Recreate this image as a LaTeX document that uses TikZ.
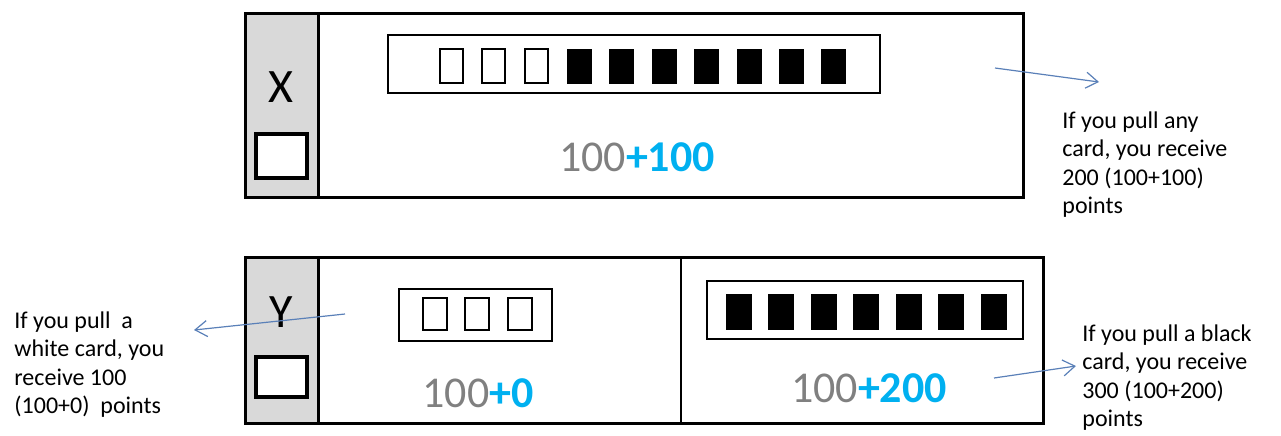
\documentclass[tikz,border=0pt]{standalone}
\usepackage{fontspec}
\setmainfont{Carlito}
\usetikzlibrary{arrows.meta}
\definecolor{colgray}{HTML}{D9D9D9}
\definecolor{numgray}{HTML}{808080}
\definecolor{numblue}{HTML}{00B0F0}
\definecolor{arrowblue}{HTML}{5A80B8}
\tikzset{
  frame/.style={draw=black, line width=1.5pt},
  sidecol/.style={draw=black, fill=colgray, line width=1.5pt},
  choicebox/.style={draw=black, fill=white, line width=2pt},
  strip/.style={draw=black, line width=1pt},
  whitecard/.style={draw=black, fill=white, line width=1pt},
  blackcard/.style={draw=black, fill=black, line width=0.5pt},
  letter/.style={inner sep=0pt, font=\fontsize{24}{28}\selectfont},
  score/.style={inner sep=0pt, anchor=base, font=\fontsize{22}{26}\selectfont},
  label/.style={inner sep=0pt, anchor=north west, align=left, font=\fontsize{12}{14.25}\selectfont},
  pointer/.style={draw=arrowblue, line width=0.6pt, -{Straight Barb[length=6pt,width=8pt]}}
}
\begin{document}
\begin{tikzpicture}[x=0.5pt, y=-0.5pt]
\useasboundingbox (0,0) rectangle (1281,435);

% ---------- Top box (X) ----------
\draw[sidecol] (245,13) rectangle (318,197);
\draw[frame] (245,13) rectangle (1023,197);
\node[letter] (xlet) at (281,87) {X};
\draw[choicebox] (256,134) rectangle (307,178);
\draw[strip] (388,35) rectangle (880,93);
\foreach \i in {0,...,9}{
  \pgfmathsetmacro{\cx}{440+\i*42.44}
  \ifnum\i<3
    \draw[whitecard] (\cx,49) rectangle ++(23,34);
  \else
    \draw[blackcard] (\cx,49) rectangle ++(24,34);
  \fi
}
\node[score] (xscore) at (637,171) {\textcolor{numgray}{100}\textcolor{numblue}{\bfseries +100}};

% ---------- Bottom box (Y) ----------
\draw[sidecol] (245,257) rectangle (318,423);
\draw[frame] (245,257) rectangle (1043,423);
\draw[line width=1pt] (681,257) -- (681,423);
\node[letter] (ylet) at (281,312) {Y};
\draw[choicebox] (256,357) rectangle (307,397);

\draw[strip] (399,289) rectangle (552,341);
\foreach \cx in {423,465,508}{
  \draw[whitecard] (\cx,298) rectangle ++(24,32);
}
\node[score] (yleftscore) at (478,407) {\textcolor{numgray}{100}\textcolor{numblue}{\bfseries +0}};

\draw[strip] (707,281) rectangle (1023,339);
\foreach \i in {0,...,6}{
  \pgfmathsetmacro{\cx}{726+\i*42.5}
  \draw[blackcard] (\cx,294) rectangle ++(25,35);
}
\node[score] (yrightscore) at (869,402) {\textcolor{numgray}{100}\textcolor{numblue}{\bfseries +200}};

% ---------- Labels ----------
\node[label] (lany) at (1062,111) {If you pull any\\card, you receive\\200 (100+100)\\points};
\node[label] (lwhite) at (14,311) {If you pull~~a\\white card, you\\receive 100\\(100+0)~ points};
\node[label] (lblack) at (1082,324) {If you pull a black\\card, you receive\\300 (100+200)\\points};

% ---------- Arrows ----------
\coordinate (a1s) at (995,68);
\coordinate (a1e) at (1099,82);
\draw[pointer] (a1s) -- (a1e);
\coordinate (a2s) at (345,314);
\coordinate (a2e) at (194,330);
\draw[pointer] (a2s) -- (a2e);
\coordinate (a3s) at (994,378);
\coordinate (a3e) at (1076,366);
\draw[pointer] (a3s) -- (a3e);
\end{tikzpicture}
\end{document}
